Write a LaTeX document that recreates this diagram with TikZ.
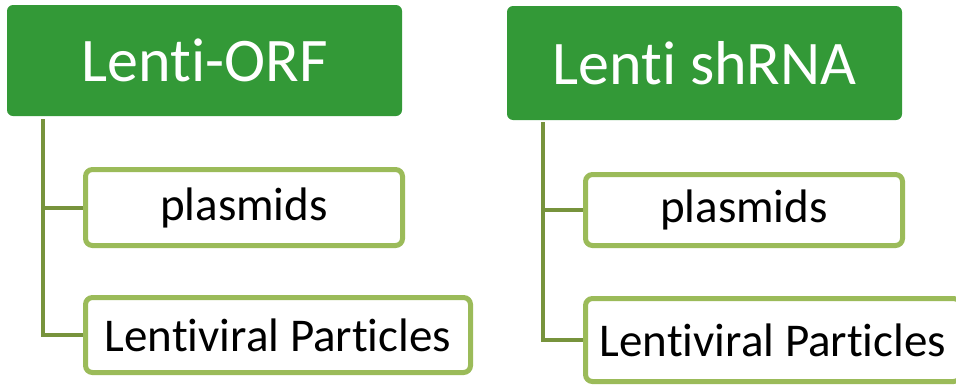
\documentclass[tikz,border=0pt]{standalone}
\usepackage{fontspec}
\setmainfont{Carlito}[Ligatures=NoCommon]
\usetikzlibrary{positioning}
\definecolor{headgreen}{RGB}{51,153,55}
\definecolor{boxgreen}{RGB}{155,187,89}
\definecolor{linegreen}{RGB}{119,147,60}

\tikzset{
  head/.style={fill=headgreen, text=white, rounded corners=6pt, inner sep=0pt,
    font=\fontsize{62}{70}\selectfont},
  item/.style={draw=boxgreen, line width=5pt, fill=white, rounded corners=7pt, inner sep=0pt,
    font=\fontsize{47}{54}\selectfont},
  trunk/.style={draw=linegreen, line width=4pt}
}

\begin{document}
\begin{tikzpicture}[x=1pt,y=-1pt]
     \useasboundingbox (0,0) rectangle (956,386);

     % Lenti-ORF column
     \node [head, minimum width=395pt, minimum height=111pt] (orfhead) at (204.5,60.5) {Lenti-ORF};
     \node [item, minimum width=317pt, minimum height=76pt] (orfplasmid) at (244,207.5) {plasmids};
     \node [item, minimum width=385pt, minimum height=75pt] (orfparticle) at (278,335) {Lentiviral Particles};
     \coordinate (orftop) at (43,119);
     \draw [trunk] (orftop) |- (orfplasmid.west);
     \draw [trunk] (orftop) |- (orfparticle.west);

     % Lenti shRNA column
     \node [head, minimum width=395pt, minimum height=114pt] (shhead) at (704.5,63) {Lenti shRNA};
     \node [item, minimum width=317pt, minimum height=71pt] (shplasmid) at (744,210) {plasmids};
     \node [item, minimum width=375pt, minimum height=83pt] (shparticle) at (773,340) {Lentiviral Particles};
     \coordinate (shtop) at (543,122);
     \draw [trunk] (shtop) |- (shplasmid.west);
     \draw [trunk] (shtop) |- (shparticle.west);
\end{tikzpicture}
\end{document}
